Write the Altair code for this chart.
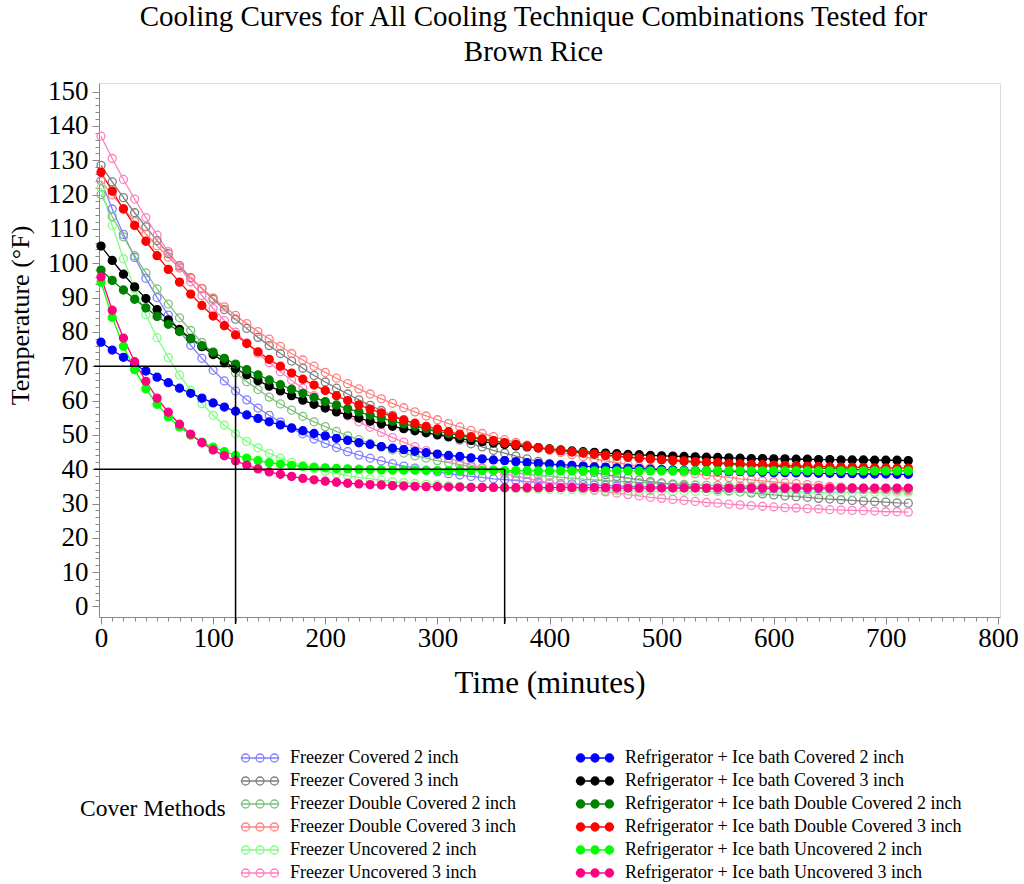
import altair as alt
import pandas as pd

# Sampling times (minutes), one reading every 10 minutes
minutes = list(range(0, 721, 10))

# Temperature readings (°F) for each cooling technique
freezer_covered_2 = [
    124.0, 115.8, 108.4, 101.7, 95.6, 90.0, 84.9, 80.3, 76.1, 72.3,
    68.8, 65.7, 62.8, 60.2, 57.8, 55.7, 53.7, 51.9, 50.3, 48.8,
    47.5, 46.3, 45.1, 44.1, 43.2, 42.4, 41.6, 40.9, 40.3, 39.7,
    39.2, 38.7, 38.3, 37.9, 37.6, 37.2, 37.0, 36.7, 36.4, 36.2,
    36.0, 35.8, 35.7, 35.5, 35.4, 35.3, 35.1, 35.0, 35.0, 34.9,
    34.8, 34.7, 34.7, 34.6, 34.5, 34.5, 34.4, 34.4, 34.4, 34.3,
    34.3, 34.3, 34.3, 34.2, 34.2, 34.2, 34.2, 34.2, 34.1, 34.1,
    34.1, 34.1, 34.1,
]
freezer_covered_3 = [
    128.5, 123.7, 119.1, 114.7, 110.6, 106.6, 102.8, 99.3, 95.8, 92.6,
    89.5, 86.5, 83.7, 81.0, 78.4, 76.0, 73.7, 71.5, 69.4, 67.3,
    65.4, 63.6, 61.9, 60.2, 58.6, 57.1, 55.7, 54.4, 53.1, 51.8,
    50.7, 49.5, 48.5, 47.4, 46.5, 45.5, 44.7, 43.8, 43.0, 42.3,
    41.6, 40.9, 40.2, 39.6, 39.0, 38.4, 37.9, 37.4, 36.9, 36.4,
    36.0, 35.5, 35.1, 34.7, 34.4, 34.0, 33.7, 33.4, 33.1, 32.8,
    32.5, 32.2, 32.0, 31.8, 31.5, 31.3, 31.1, 30.9, 30.7, 30.6,
    30.4, 30.2, 30.1,
]
freezer_double_covered_2 = [
    120.0, 113.6, 107.7, 102.2, 97.2, 92.5, 88.1, 84.1, 80.4, 76.9,
    73.7, 70.8, 68.1, 65.5, 63.2, 61.0, 59.0, 57.2, 55.4, 53.8,
    52.4, 51.0, 49.7, 48.6, 47.5, 46.5, 45.6, 44.7, 43.9, 43.2,
    42.5, 41.9, 41.3, 40.7, 40.2, 39.8, 39.3, 38.9, 38.6, 38.2,
    37.9, 37.6, 37.4, 37.1, 36.9, 36.7, 36.5, 36.3, 36.1, 36.0,
    35.8, 35.7, 35.6, 35.4, 35.3, 35.2, 35.1, 35.1, 35.0, 34.9,
    34.8, 34.8, 34.7, 34.7, 34.6, 34.6, 34.5, 34.5, 34.5, 34.4,
    34.4, 34.4, 34.3,
]
freezer_double_covered_3 = [
    124.0, 119.9, 115.9, 112.1, 108.5, 105.1, 101.8, 98.6, 95.6, 92.7,
    89.9, 87.3, 84.8, 82.4, 80.1, 77.9, 75.8, 73.7, 71.8, 70.0,
    68.2, 66.5, 64.9, 63.4, 61.9, 60.5, 59.2, 57.9, 56.7, 55.5,
    54.4, 53.3, 52.3, 51.3, 50.4, 49.5, 48.6, 47.8, 47.0, 46.3,
    45.5, 44.9, 44.2, 43.6, 43.0, 42.4, 41.9, 41.3, 40.8, 40.4,
    39.9, 39.5, 39.1, 38.7, 38.3, 37.9, 37.6, 37.2, 36.9, 36.6,
    36.3, 36.0, 35.8, 35.5, 35.3, 35.0, 34.8, 34.6, 34.4, 34.2,
    34.0, 33.9, 33.7,
]
freezer_uncovered_2 = [
    122.0, 111.0, 101.3, 92.6, 85.0, 78.3, 72.5, 67.4, 63.0, 59.1,
    55.7, 52.8, 50.3, 48.1, 46.2, 44.6, 43.2, 42.0, 41.0, 40.1,
    39.4, 38.7, 38.1, 37.6, 37.2, 36.8, 36.4, 36.1, 35.8, 35.6,
    35.4, 35.2, 35.0, 34.8, 34.7, 34.6, 34.5, 34.4, 34.3, 34.2,
    34.1, 34.0, 34.0, 33.9, 33.9, 33.8, 33.8, 33.7, 33.7, 33.7,
    33.6, 33.6, 33.6, 33.6, 33.5, 33.5, 33.5, 33.5, 33.4, 33.4,
    33.4, 33.4, 33.4, 33.4, 33.3, 33.3, 33.3, 33.3, 33.3, 33.3,
    33.3, 33.3, 33.3,
]
freezer_uncovered_3 = [
    137.0, 130.5, 124.4, 118.7, 113.3, 108.2, 103.4, 98.9, 94.6, 90.6,
    86.8, 83.3, 79.9, 76.8, 73.8, 71.0, 68.4, 65.9, 63.6, 61.4,
    59.3, 57.4, 55.5, 53.8, 52.2, 50.7, 49.2, 47.9, 46.6, 45.4,
    44.3, 43.2, 42.2, 41.2, 40.4, 39.5, 38.7, 38.0, 37.3, 36.6,
    36.0, 35.4, 34.9, 34.4, 33.9, 33.4, 33.0, 32.6, 32.2, 31.8,
    31.5, 31.2, 30.9, 30.6, 30.3, 30.1, 29.8, 29.6, 29.4, 29.2,
    29.0, 28.8, 28.7, 28.5, 28.4, 28.2, 28.1, 28.0, 27.9, 27.8,
    27.6, 27.6, 27.5,
]
fridge_ice_covered_2 = [
    77.0, 74.7, 72.6, 70.5, 68.6, 66.8, 65.2, 63.6, 62.1, 60.7,
    59.3, 58.1, 56.9, 55.8, 54.8, 53.8, 52.9, 52.0, 51.2, 50.4,
    49.7, 49.0, 48.4, 47.7, 47.2, 46.6, 46.1, 45.7, 45.2, 44.8,
    44.4, 44.0, 43.7, 43.3, 43.0, 42.7, 42.5, 42.2, 41.9, 41.7,
    41.5, 41.3, 41.1, 40.9, 40.7, 40.6, 40.4, 40.3, 40.2, 40.0,
    39.9, 39.8, 39.7, 39.6, 39.5, 39.4, 39.3, 39.3, 39.2, 39.1,
    39.0, 39.0, 38.9, 38.9, 38.8, 38.8, 38.7, 38.7, 38.6, 38.6,
    38.6, 38.5, 38.5,
]
fridge_ice_covered_3 = [
    105.0, 100.8, 96.8, 93.1, 89.7, 86.5, 83.5, 80.7, 78.1, 75.7,
    73.4, 71.3, 69.3, 67.5, 65.8, 64.2, 62.8, 61.4, 60.1, 58.9,
    57.8, 56.7, 55.8, 54.9, 54.0, 53.2, 52.5, 51.8, 51.2, 50.6,
    50.0, 49.4, 48.9, 48.4, 48.0, 47.6, 47.2, 46.8, 46.5, 46.2,
    45.9, 45.6, 45.3, 45.1, 44.9, 44.7, 44.5, 44.3, 44.2, 44.0,
    43.9, 43.8, 43.7, 43.6, 43.5, 43.4, 43.3, 43.2, 43.1, 43.1,
    43.0, 43.0, 42.9, 42.9, 42.8, 42.8, 42.7, 42.7, 42.7, 42.6,
    42.6, 42.6, 42.5,
]
fridge_ice_double_covered_2 = [
    98.0, 95.0, 92.2, 89.5, 87.0, 84.5, 82.2, 80.1, 78.0, 76.0,
    74.1, 72.3, 70.6, 69.0, 67.5, 66.0, 64.6, 63.3, 62.1, 60.9,
    59.7, 58.7, 57.6, 56.7, 55.7, 54.9, 54.0, 53.2, 52.5, 51.8,
    51.1, 50.4, 49.8, 49.2, 48.7, 48.2, 47.7, 47.2, 46.7, 46.3,
    45.9, 45.5, 45.1, 44.8, 44.4, 44.1, 43.8, 43.5, 43.3, 43.0,
    42.7, 42.5, 42.3, 42.1, 41.9, 41.7, 41.5, 41.3, 41.2, 41.0,
    40.9, 40.7, 40.6, 40.5, 40.3, 40.2, 40.1, 40.0, 39.9, 39.8,
    39.7, 39.6, 39.6,
]
fridge_ice_double_covered_3 = [
    126.5, 121.0, 115.8, 111.0, 106.4, 102.2, 98.2, 94.5, 91.0, 87.7,
    84.6, 81.8, 79.1, 76.6, 74.2, 72.0, 70.0, 68.0, 66.2, 64.5,
    62.9, 61.4, 60.0, 58.7, 57.5, 56.4, 55.3, 54.3, 53.4, 52.5,
    51.7, 50.9, 50.2, 49.5, 48.8, 48.3, 47.7, 47.2, 46.7, 46.2,
    45.8, 45.4, 45.0, 44.7, 44.4, 44.0, 43.8, 43.5, 43.2, 43.0,
    42.8, 42.6, 42.4, 42.2, 42.0, 41.9, 41.7, 41.6, 41.4, 41.3,
    41.2, 41.1, 41.0, 40.9, 40.8, 40.7, 40.6, 40.6, 40.5, 40.4,
    40.4, 40.3, 40.3,
]
fridge_ice_uncovered_2 = [
    94.5, 84.2, 75.8, 69.0, 63.4, 58.9, 55.3, 52.3, 49.9, 47.9,
    46.4, 45.1, 44.0, 43.2, 42.5, 41.9, 41.5, 41.1, 40.8, 40.6,
    40.4, 40.2, 40.1, 40.0, 39.9, 39.8, 39.7, 39.7, 39.7, 39.6,
    39.6, 39.6, 39.6, 39.6, 39.6, 39.6, 39.6, 39.6, 39.6, 39.5,
    39.5, 39.5, 39.5, 39.5, 39.5, 39.5, 39.5, 39.5, 39.5, 39.5,
    39.5, 39.5, 39.5, 39.5, 39.5, 39.5, 39.5, 39.5, 39.5, 39.5,
    39.5, 39.5, 39.5, 39.5, 39.5, 39.5, 39.5, 39.5, 39.5, 39.5,
    39.5, 39.5, 39.5,
]
fridge_ice_uncovered_3 = [
    96.0, 86.3, 78.2, 71.3, 65.6, 60.7, 56.6, 53.1, 50.2, 47.7,
    45.6, 43.9, 42.4, 41.2, 40.1, 39.2, 38.5, 37.9, 37.3, 36.9,
    36.5, 36.2, 35.9, 35.7, 35.5, 35.4, 35.2, 35.1, 35.0, 34.9,
    34.9, 34.8, 34.8, 34.7, 34.7, 34.7, 34.6, 34.6, 34.6, 34.6,
    34.6, 34.6, 34.6, 34.6, 34.6, 34.6, 34.5, 34.5, 34.5, 34.5,
    34.5, 34.5, 34.5, 34.5, 34.5, 34.5, 34.5, 34.5, 34.5, 34.5,
    34.5, 34.5, 34.5, 34.5, 34.5, 34.5, 34.5, 34.5, 34.5, 34.5,
    34.5, 34.5, 34.5,
]

# Series names, line colours and marker fills (open markers for freezer runs)
freezer_names = [
    "Freezer Covered 2 inch", "Freezer Covered 3 inch",
    "Freezer Double Covered 2 inch", "Freezer Double Covered 3 inch",
    "Freezer Uncovered 2 inch", "Freezer Uncovered 3 inch",
]
fridge_names = [
    "Refrigerator + Ice bath Covered 2 inch", "Refrigerator + Ice bath Covered 3 inch",
    "Refrigerator + Ice bath Double Covered 2 inch", "Refrigerator + Ice bath Double Covered 3 inch",
    "Refrigerator + Ice bath Uncovered 2 inch", "Refrigerator + Ice bath Uncovered 3 inch",
]
freezer_colors = ["#8080ff", "#808080", "#80c080", "#ff8080", "#80ff80", "#ff80c0"]
fridge_colors = ["#0000ff", "#000000", "#008000", "#ff0000", "#00ff00", "#ff0080"]
freezer_values = [freezer_covered_2, freezer_covered_3, freezer_double_covered_2,
                  freezer_double_covered_3, freezer_uncovered_2, freezer_uncovered_3]
fridge_values = [fridge_ice_covered_2, fridge_ice_covered_3, fridge_ice_double_covered_2,
                 fridge_ice_double_covered_3, fridge_ice_uncovered_2, fridge_ice_uncovered_3]

# Safe-cooling checkpoints: 70 °F by 120 min, 40 °F by 360 min
guide_minutes = [120, 360]
guide_temps = [70, 40]

rows = []
for name, vals in zip(freezer_names + fridge_names, freezer_values + fridge_values):
    assert len(vals) == len(minutes), name
    for t, v in zip(minutes, vals):
        rows.append({"minutes": t, "temp": v, "method": name})
df = pd.DataFrame(rows)
guides = pd.DataFrame({"minutes": guide_minutes, "temp": guide_temps})

# Legend columns fill top to bottom: freezer runs left, refrigerator runs right
legend_order = freezer_names + fridge_names
stroke_range = freezer_colors + fridge_colors
fill_range = ["transparent"] * len(freezer_colors) + fridge_colors

SERIF = "Liberation Serif"
W, H = 901, 534

# Line segment with three circles, used as the legend glyph
glyph = ("M-2.4,0H2.4"
         "M-1.3,0A0.5,0.5,0,1,1,-2.3,0A0.5,0.5,0,1,1,-1.3,0Z"
         "M0.5,0A0.5,0.5,0,1,1,-0.5,0A0.5,0.5,0,1,1,0.5,0Z"
         "M2.3,0A0.5,0.5,0,1,1,1.3,0A0.5,0.5,0,1,1,2.3,0Z")

legend = alt.Legend(
    title="Cover Methods", orient="none", legendX=-19, legendY=666,
    columns=2, columnPadding=57, rowPadding=5,
    titleOrient="left", titleAnchor="middle", titleBaseline="alphabetic",
    titlePadding=25, titleFont=SERIF, titleFontSize=23.5, titleFontWeight="normal",
    titleColor="black",
    labelFont=SERIF, labelFontSize=18, labelColor="black", labelLimit=500,
    labelOffset=21, symbolType=glyph, symbolSize=256, symbolStrokeWidth=1.3,
    symbolFillColor="transparent", padding=0,
)

x_axis = alt.Axis(
    values=list(range(0, 801, 10)),
    labelExpr="datum.value % 100 === 0 ? datum.label : ''",
    tickSize={"condition": {"test": "datum.value % 100 === 0", "value": 7}, "value": 4},
    labelOverlap=False, labelFlush=False, grid=False,
    labelFont=SERIF, labelFontSize=27, labelColor="black", labelPadding=1,
    titleFont=SERIF, titleFontSize=31, titleFontWeight="normal", titleColor="black",
    titleY=66, titleBaseline="middle",
)
y_axis = alt.Axis(
    values=list(range(0, 151, 2)),
    labelExpr="datum.value % 10 === 0 ? datum.label : ''",
    tickSize={"condition": {"test": "datum.value % 10 === 0", "value": 7}, "value": 4},
    labelOverlap=False, labelFlush=False, grid=False,
    labelFont=SERIF, labelFontSize=27, labelColor="black", labelPadding=4,
    titleFont=SERIF, titleFontSize=26, titleFontWeight="normal", titleColor="black",
    titleX=-79, titleY=232, titleBaseline="middle", titleAlign="center", titleAngle=-90,
)

x_enc = alt.X("minutes:Q", title="Time (minutes)",
              scale=alt.Scale(domain=[-1.8, 801.8], nice=False, zero=False), axis=x_axis)
y_enc = alt.Y("temp:Q", title="Temperature (°F)",
              scale=alt.Scale(domain=[-3.06, 152.5], nice=False, zero=False), axis=y_axis)
stroke_enc = alt.Stroke("method:N", title="Cover Methods",
                        scale=alt.Scale(domain=legend_order, range=stroke_range), legend=legend)
fill_enc = alt.Fill("method:N", title="Cover Methods",
                    scale=alt.Scale(domain=legend_order, range=fill_range), legend=legend)

lines = alt.Chart(df).mark_line(strokeWidth=1.3).encode(x=x_enc, y=y_enc, stroke=stroke_enc)
points = alt.Chart(df).mark_point(shape="circle", size=64, strokeWidth=1.3, opacity=1).encode(
    x=x_enc, y=y_enc, stroke=stroke_enc, fill=fill_enc)

h_guides = alt.Chart(guides).mark_rule(color="black", strokeWidth=1.5).encode(
    x=x_enc, x2=alt.value(-5), y=y_enc)
v_guides = alt.Chart(guides).mark_rule(color="black", strokeWidth=1.5).encode(
    x=x_enc, y=y_enc, y2=alt.value(H + 7))

chart = alt.layer(lines, points, h_guides, v_guides).properties(
    width=W, height=H,
    autosize=alt.AutoSizeParams(type="none"),
    padding={"left": 99, "top": 83, "right": 24, "bottom": 267},
    title=alt.TitleParams(
        text=["Cooling Curves for All Cooling Technique Combinations Tested for", "Brown Rice"],
        font=SERIF, fontSize=29, fontWeight="normal", color="black",
        anchor="middle", frame="group", dx=-16, offset=11, lineHeight=35,
    ),
).configure_view(
    stroke="#a8a8a8", strokeWidth=1.5,
).configure_axis(
    domainColor="#a8a8a8", domainWidth=1.5, tickColor="#a8a8a8", tickWidth=1,
).configure(background="white")

chart.save("out.html", embed_options={"renderer": "svg", "actions": False})
